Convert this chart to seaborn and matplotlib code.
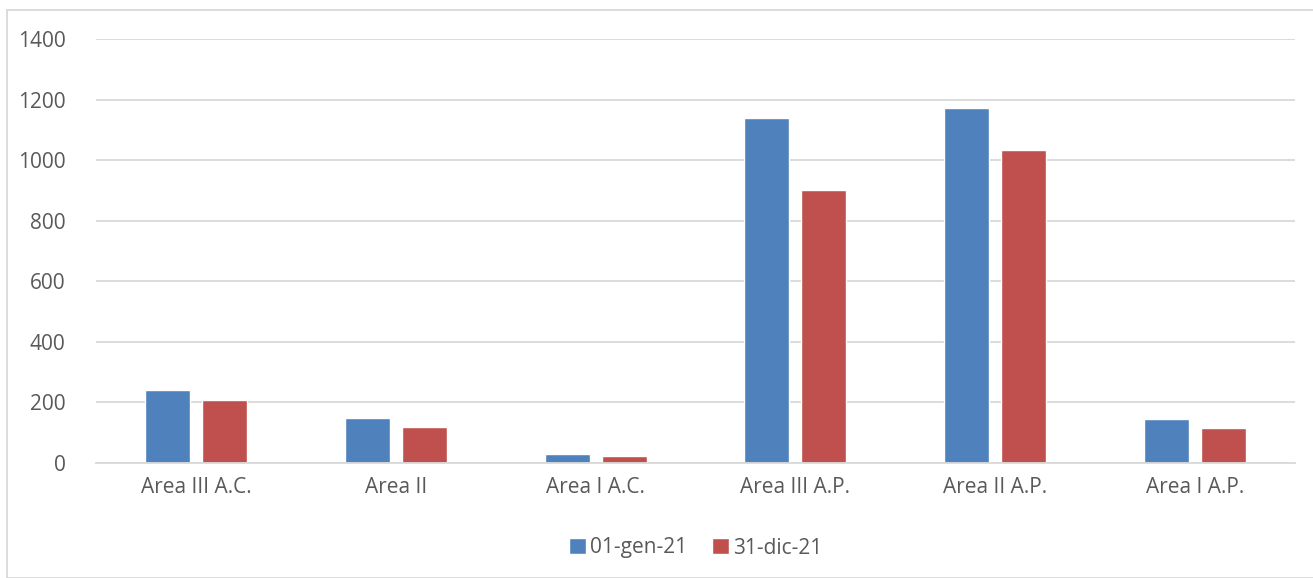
import matplotlib
matplotlib.use('Agg')
import matplotlib.pyplot as plt
import matplotlib.patches as mpatches
import seaborn as sns
import pandas as pd

categories = ["Area III A.C.", "Area II", "Area I A.C.", "Area III A.P.", "Area II A.P.", "Area I A.P."]
series_names = ["01-gen-21", "31-dic-21"]
values_gen = [240, 147, 31, 1140, 1171, 146]
values_dic = [207, 120, 22, 902, 1032, 115]
colors = ["#4F81BD", "#C0504D"]

df = pd.DataFrame({
    "area": categories * 2,
    "serie": [series_names[0]] * 6 + [series_names[1]] * 6,
    "valore": values_gen + values_dic,
})

sns.set_theme(style="white")
plt.rcParams['font.family'] = ['Open Sans', 'DejaVu Sans']
txt = "#595959"

fig = plt.figure(figsize=(13.13, 5.78), dpi=100)
ax = fig.add_axes([96/1313, 1 - 463/578, (1295-96)/1313, (463-39)/578])

sns.barplot(data=df, x="area", y="valore", hue="serie", palette=colors,
            width=0.57, gap=0.21, ax=ax, saturation=1, legend=True)

ax.set_ylim(0, 1400)
ax.set_xlim(-0.5, 5.5)
ax.set_yticks(range(0, 1401, 200))
ax.yaxis.grid(True, color="#D9D9D9", linewidth=1.3)
ax.set_axisbelow(True)
for s in ["top", "right", "left"]:
    ax.spines[s].set_visible(False)
ax.spines["bottom"].set_color("#D9D9D9")
ax.spines["bottom"].set_linewidth(1.3)
ax.set_xlabel("")
ax.set_ylabel("")
ax.tick_params(axis="both", length=0, labelsize=15, colors=txt)
ax.tick_params(axis="y", pad=22)
ax.tick_params(axis="x", pad=10)

handles, labels = ax.get_legend_handles_labels()
ax.legend(handles, labels, loc="center", bbox_to_anchor=(0.5, (463 - 548) / (463 - 39)),
          ncol=2, frameon=False, fontsize=15, labelcolor=txt,
          handlelength=0.8, handleheight=0.8, handletextpad=0.2, columnspacing=1.2)

fig.patches.append(mpatches.Rectangle((7/1313, 0), 1.2, 1 - 10/578, transform=fig.transFigure,
                                      fill=False, edgecolor="#D9D9D9", linewidth=1.3))

fig.savefig("out.png", dpi=100)
